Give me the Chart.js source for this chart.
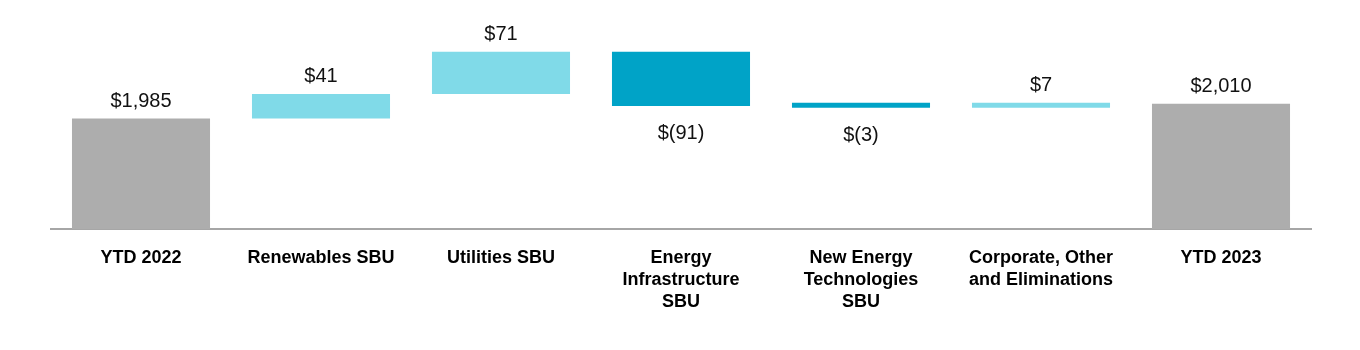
<!DOCTYPE html>
<html>
<head>
<meta charset="utf-8">
<script src="https://cdn.jsdelivr.net/npm/chart.js@4.4.0/dist/chart.umd.min.js"></script>
<style>
    html, body { margin: 0; padding: 0; background: #fff; }
    .wrap { width: 1360px; height: 350px; position: relative; }
</style>
</head>
<body>
<div class="wrap"><canvas id="bridge"></canvas></div>
<script>
// categories (multi-line tick labels)
const categories = [
    ['YTD 2022'],
    ['Renewables SBU'],
    ['Utilities SBU'],
    ['Energy', 'Infrastructure', 'SBU'],
    ['New Energy', 'Technologies', 'SBU'],
    ['Corporate, Other', 'and Eliminations'],
    ['YTD 2023']
];
// start total, segment changes, end total ($ millions)
const startTotal = 1985;
const changes = [41, 71, -91, -3, 7];
const endTotal = 2010;
const yMin = 1800;
const yMax = 2150;

const GREY = '#adadad';
const UP = '#80dae8';
const DOWN = '#00a3c7';

function money(v) {
    const s = '$' + Math.abs(v).toLocaleString('en-US');
    return v < 0 ? '$(' + Math.abs(v).toLocaleString('en-US') + ')' : s;
}

// build floating bars from the arrays
const ranges = [[yMin, startTotal]];
const colors = [GREY];
const labels = [money(startTotal)];
let running = startTotal;
changes.forEach(c => {
    ranges.push([running, running + c]);
    colors.push(c >= 0 ? UP : DOWN);
    labels.push(money(c));
    running += c;
});
ranges.push([yMin, endTotal]);
colors.push(GREY);
labels.push(money(endTotal));

const valueLabels = {
    id: 'valueLabels',
    afterDatasetsDraw(chart) {
        const ctx = chart.ctx;
        const meta = chart.getDatasetMeta(0);
        ctx.save();
        ctx.font = '20px "Liberation Sans", Arial, sans-serif';
        ctx.fillStyle = '#111';
        ctx.textAlign = 'center';
        ctx.textBaseline = 'alphabetic';
        meta.data.forEach((bar, i) => {
            const top = Math.min(bar.y, bar.base);
            const bottom = Math.max(bar.y, bar.base);
            const neg = i > 0 && i <= changes.length && changes[i - 1] < 0;
            if (neg) {
                ctx.fillText(labels[i], bar.x, bottom + 33);
            } else {
                ctx.fillText(labels[i], bar.x, top - 12);
            }
        });
        ctx.restore();
    }
};

new Chart(document.getElementById('bridge'), {
    type: 'bar',
    data: {
        labels: categories,
        datasets: [{
            data: ranges,
            backgroundColor: colors,
            borderWidth: 0,
            minBarLength: 5,
            barPercentage: 0.767,
            categoryPercentage: 1
        }]
    },
    options: {
        responsive: true,
        maintainAspectRatio: false,
        animation: false,
        layout: { padding: { left: 51, right: 49, top: 20, bottom: 27 } },
        plugins: {
            legend: { display: false },
            tooltip: { enabled: false }
        },
        scales: {
            y: {
                display: false,
                min: yMin,
                max: yMax
            },
            x: {
                grid: { display: false },
                border: { display: true, color: '#a6a6a6', width: 2 },
                ticks: {
                    autoSkip: false,
                    maxRotation: 0,
                    padding: 10,
                    color: '#000',
                    font: { family: '"Liberation Sans", Arial, sans-serif', size: 18, weight: 'bold', lineHeight: 1.22 }
                }
            }
        }
    },
    plugins: [valueLabels]
});
</script>
</body>
</html>
